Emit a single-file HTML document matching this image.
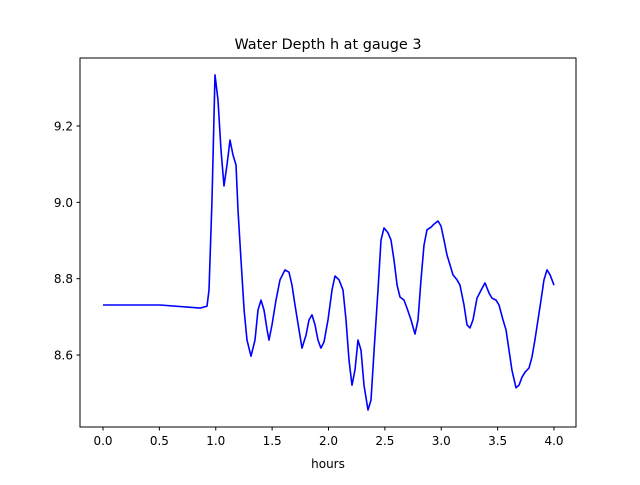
<!DOCTYPE html>
<html><head><meta charset="utf-8"><style>
body{margin:0;background:#fff}
svg text{font-family:"DejaVu Sans","Liberation Sans",sans-serif;fill:#000}
</style></head><body>
<svg id="chart" width="640" height="480">
<rect x="0" y="0" width="640" height="480" fill="#fff"/>
<text x="328" y="49" font-size="14.4" text-anchor="middle">Water Depth h at gauge 3</text>
<g id="plot"></g>
<rect x="80" y="58" width="496" height="369" fill="none" stroke="#000" stroke-width="1"/>
<text x="328" y="468" font-size="12" text-anchor="middle">hours</text>
</svg>
<script>
const hours=[0,0.506,0.861,0.922,0.940,0.967,0.993,1.020,1.047,1.073,1.100,1.126,1.153,1.180,1.197,1.224,1.251,1.277,1.313,1.348,1.375,1.401,1.428,1.455,1.472,1.499,1.534,1.570,1.614,1.650,1.676,1.703,1.738,1.765,1.800,1.827,1.854,1.880,1.907,1.933,1.960,1.996,2.031,2.058,2.093,2.129,2.155,2.182,2.208,2.235,2.262,2.288,2.315,2.350,2.377,2.404,2.439,2.466,2.492,2.528,2.554,2.581,2.608,2.634,2.670,2.696,2.732,2.767,2.794,2.820,2.847,2.874,2.909,2.936,2.971,2.998,3.024,3.051,3.078,3.104,3.140,3.166,3.202,3.228,3.255,3.282,3.317,3.353,3.388,3.424,3.450,3.486,3.512,3.548,3.574,3.601,3.627,3.663,3.690,3.716,3.743,3.778,3.805,3.831,3.858,3.885,3.911,3.938,3.965,4.000];
const depth=[8.731,8.731,8.723,8.728,8.770,9.006,9.334,9.268,9.137,9.043,9.098,9.163,9.124,9.098,8.980,8.849,8.718,8.639,8.597,8.639,8.718,8.744,8.718,8.666,8.639,8.679,8.744,8.797,8.823,8.817,8.783,8.731,8.666,8.618,8.652,8.692,8.705,8.679,8.639,8.618,8.634,8.692,8.770,8.807,8.797,8.770,8.692,8.587,8.521,8.561,8.639,8.613,8.521,8.456,8.482,8.613,8.770,8.901,8.933,8.920,8.901,8.849,8.783,8.752,8.744,8.723,8.692,8.655,8.692,8.797,8.888,8.928,8.935,8.943,8.951,8.938,8.901,8.862,8.836,8.810,8.797,8.783,8.731,8.679,8.671,8.692,8.749,8.770,8.789,8.762,8.749,8.744,8.731,8.692,8.666,8.613,8.561,8.514,8.521,8.542,8.555,8.566,8.595,8.639,8.692,8.744,8.797,8.823,8.810,8.783];
const xTicks=[0,0.5,1,1.5,2,2.5,3,3.5,4];
const xTickLabels=["0.0","0.5","1.0","1.5","2.0","2.5","3.0","3.5","4.0"];
const yTicks=[8.6,8.8,9.0,9.2];
const yTickLabels=["8.6","8.8","9.0","9.2"];
const xs=v=>103+v*112.75;
const ys=v=>126+(9.2-v)*381.7;
const ns="http://www.w3.org/2000/svg";
const g=document.getElementById('plot');
function mk(t,a){const e=document.createElementNS(ns,t);for(const k in a)e.setAttribute(k,a[k]);g.appendChild(e);return e;}
xTicks.forEach((v,i)=>{
 const l=mk('line',{x1:xs(v),x2:xs(v),y1:427,y2:430.5,stroke:'#000'});
 
 
 const t=mk('text',{x:xs(v),y:445,'font-size':'12','text-anchor':'middle'});
 t.textContent=xTickLabels[i];
 
 
});
yTicks.forEach((v,i)=>{
 const l=mk('line',{x1:76.5,x2:80,y1:ys(v),y2:ys(v),stroke:'#000'});
 
 
 const t=mk('text',{x:73,y:ys(v)+4.5,'font-size':'12','text-anchor':'end'});
 t.textContent=yTickLabels[i];
 
 
});
const pts=hours.map((h,i)=>xs(h).toFixed(1)+','+ys(depth[i]).toFixed(1)).join(' ');
const line=mk('polyline',{points:pts,fill:'none',stroke:'#0000ff','stroke-width':'1.6','stroke-linejoin':'round'});


</script>
</body></html>
